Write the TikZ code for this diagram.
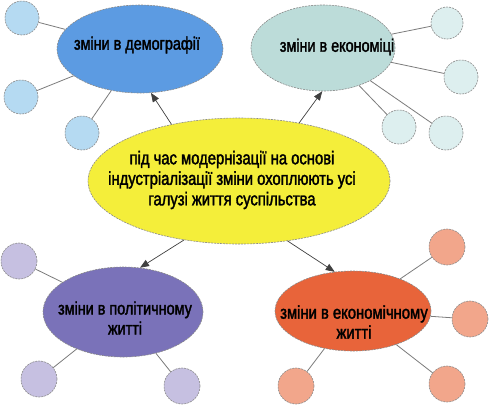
\documentclass[tikz,border=0pt]{standalone}
\usepackage{fontspec}
\setmainfont{Liberation Sans}[FakeStretch=0.8,FakeBold=1.8]
\usetikzlibrary{arrows.meta,shapes.geometric}
\definecolor{demo}{HTML}{5C9BE2}
\definecolor{demoS}{HTML}{B5DAF2}
\definecolor{econ}{HTML}{BCDCD9}
\definecolor{econS}{HTML}{DDEFEF}
\definecolor{mid}{HTML}{F4EE3A}
\definecolor{pol}{HTML}{7A72B9}
\definecolor{polS}{HTML}{C6C0E1}
\definecolor{life}{HTML}{E8643A}
\definecolor{lifeS}{HTML}{F2A68B}
\definecolor{edge}{HTML}{8A8A8A}
\tikzset{
  x=1pt, y=-1pt,
  bub/.style={ellipse, draw=edge, dash pattern=on 2pt off 1pt, line width=0.6pt, inner sep=0pt},
  sat/.style={circle, draw=edge, dash pattern=on 2pt off 1pt, line width=0.6pt, minimum size=#1, inner sep=0pt},
  link/.style={draw=edge!90!black, line width=0.8pt},
  arr/.style={draw=black!75, line width=0.7pt, -{Triangle[length=9pt,width=7pt]}},
  lbl/.style={font=\fontsize{18}{20}\selectfont, align=center, inner sep=0pt}
}
\begin{document}
\begin{tikzpicture}
\useasboundingbox (0,0) rectangle (489,408);
\fill[white] (0,0) rectangle (489,408);
% satellites
\node[sat=34pt, fill=demoS] (d1) at (22,18) {};
\node[sat=34pt, fill=demoS] (d2) at (21,97) {};
\node[sat=34pt, fill=demoS] (d3) at (82,133) {};
\node[sat=32pt, fill=econS] (e1) at (447,23) {};
\node[sat=34pt, fill=econS] (e2) at (461,77) {};
\node[sat=34pt, fill=econS] (e3) at (399,127) {};
\node[sat=34pt, fill=econS] (e4) at (446,133) {};
\node[sat=36pt, fill=polS] (p1) at (19,261) {};
\node[sat=36pt, fill=polS] (p2) at (39,379) {};
\node[sat=36pt, fill=polS] (p3) at (182,386) {};
\node[sat=36pt, fill=lifeS] (l1) at (447,247) {};
\node[sat=36pt, fill=lifeS] (l2) at (470,319) {};
\node[sat=36pt, fill=lifeS] (l3) at (296,386) {};
\node[sat=36pt, fill=lifeS] (l4) at (447,384) {};
% main ellipses
\node[bub, fill=demo, minimum width=166pt, minimum height=88pt] (D) at (140,49) {};
\node[lbl] at (137,45) (Dt) {зміни в демографії};
\node[bub, fill=econ, minimum width=144pt, minimum height=86pt] (E) at (323,48) {};
\node[lbl] at (337,47) (Et) {зміни в економіці};
\node[bub, fill=pol, minimum width=160pt, minimum height=90pt] (P) at (123,312) {};
\node[lbl] at (125,318) (Pt) {зміни в політичному\\житті};
\node[bub, fill=life, minimum width=156pt, minimum height=80pt] (L) at (353,311) {};
\node[lbl, font=\fontsize{18.5}{20}\selectfont] at (354,322) (Lt) {зміни в економічному\\житті};
\node[bub, fill=mid, minimum width=302pt, minimum height=126pt] (M) at (239,181) {};
\node[lbl, font=\fontsize{18.5}{20.5}\selectfont] at (232,180) (Mt) {під час модернізації на основі\\індустріалізації зміни охоплюють усі\\галузі життя суспільства};
% links
\draw[link] (d1) -- (D);
\draw[link] (d2) -- (D);
\draw[link] (d3) -- (D);
\draw[link] (e1) -- (E);
\draw[link] (e2) -- (E);
\draw[link] (e3) -- (E);
\draw[link] (e4) -- (E);
\draw[link] (p1) -- (P);
\draw[link] (p2) -- (P);
\draw[link] (p3) -- (P);
\draw[link] (l1) -- (L);
\draw[link] (l2) -- (L);
\draw[link] (l3) -- (L);
\draw[link] (l4) -- (L);
\draw[arr] (M.140) -- (D.-76);
\draw[arr] (M.44) -- (E.-91);
\draw[arr] (M.-133) -- (P.69);
\draw[arr] (M.-51) -- (L.115);
\end{tikzpicture}
\end{document}
